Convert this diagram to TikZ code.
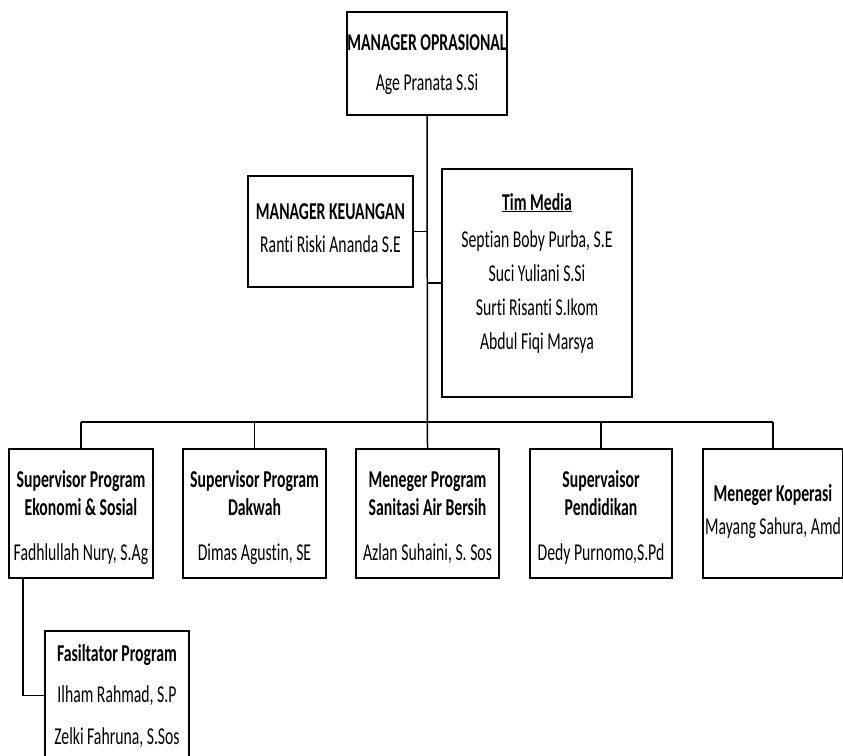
\documentclass[tikz,border=0pt]{standalone}
\usepackage{fontspec}
\setmainfont{Carlito}[FakeStretch=0.65, Ligatures=NoCommon]
\begin{document}
\begin{tikzpicture}[x=1pt,y=-1pt,
  box/.style={draw, line width=1.6pt, fill=white, inner sep=0pt},
  txt/.style={inner sep=0pt, anchor=base, font=\fontsize{24.2}{27}\selectfont},
  bt/.style={txt, font=\fontsize{24.2}{27}\selectfont\bfseries},
  conn/.style={line width=1.5pt}]
\useasboundingbox[fill=white] (0,0) rectangle (843,755);
% boxes
\node[box, minimum width=160pt, minimum height=103pt] (top) at (427,63.5) {};
\node[box, minimum width=165pt, minimum height=111pt] (keu) at (330.5,231.5) {};
\node[box, minimum width=190pt, minimum height=228pt] (tim) at (537,283) {};
\node[box, minimum width=144pt, minimum height=129pt] (b1) at (81,513.5) {};
\node[box, minimum width=143pt, minimum height=129pt] (b2) at (254.5,513.5) {};
\node[box, minimum width=143pt, minimum height=129pt] (b3) at (427.5,513.5) {};
\node[box, minimum width=142pt, minimum height=129pt] (b4) at (601,513.5) {};
\node[box, minimum width=140pt, minimum height=129pt] (b5) at (773,513.5) {};
\node[box, minimum width=144pt, minimum height=129pt] (fas) at (117,695.5) {};
% connectors
\coordinate (bus) at (427,422);
\coordinate (busL) at (81,422);
\coordinate (busR) at (773,422);
\draw[conn] (top.south) -- (b3.north);
\draw[conn] (keu.east) -- (keu.east -| top.south);
\draw[conn] (tim.west -| top.south) -- (tim.west);
\draw[conn] (busL) -- (busR);
\draw[conn] (busL) -- (b1.north);
\draw[conn] (b2.north |- bus) -- (b2.north);
\draw[conn] (b4.north |- bus) -- (b4.north);
\draw[conn] (busR) -- (b5.north);
\draw[conn] ([xshift=15pt]b1.south west) |- (fas.west);
% texts
\node[bt] (t1a) at (427,50.5) {MANAGER OPRASIONAL};
\node[txt] (t1b) at (427,90.5) {Age Pranata S.Si};
\node[bt] (t2a) at (330.5,219.5) {MANAGER KEUANGAN};
\node[txt] (t2b) at (330.5,252.5) {Ranti Riski Ananda S.E};
\node[bt] (t3a) at (537,210) {\underline{Tim Media}};
\node[txt] (t3b) at (537,247) {Septian Boby Purba, S.E};
\node[txt] (t3c) at (537,281) {Suci Yuliani S.Si};
\node[txt] (t3d) at (537,315) {Surti Risanti S.Ikom};
\node[txt] (t3e) at (537,349) {Abdul Fiqi Marsya};
\node[bt] (t4a) at (81,487.5) {Supervisor Program};
\node[bt] (t4b) at (81,515.5) {Ekonomi \& Sosial};
\node[txt] (t4c) at (81,560.5) {Fadhlullah Nury, S.Ag};
\node[bt] (t5a) at (254.5,487.5) {Supervisor Program};
\node[bt] (t5b) at (254.5,515.5) {Dakwah};
\node[txt] (t5c) at (254.5,560.5) {Dimas Agustin, SE};
\node[bt] (t6a) at (427.5,487.5) {Meneger Program};
\node[bt] (t6b) at (427.5,515.5) {Sanitasi Air Bersih};
\node[txt] (t6c) at (427.5,560.5) {Azlan Suhaini, S. Sos};
\node[bt] (t7a) at (601,487.5) {Supervaisor};
\node[bt] (t7b) at (601,515.5) {Pendidikan};
\node[txt] (t7c) at (601,560.5) {Dedy Purnomo,S.Pd};
\node[bt] (t8a) at (773,501) {Meneger Koperasi};
\node[txt] (t8b) at (773,534) {Mayang Sahura, Amd};
\node[bt] (t9a) at (117,661) {Fasiltator Program};
\node[txt] (t9b) at (117,702) {Ilham Rahmad, S.P};
\node[txt] (t9c) at (117,744) {Zelki Fahruna, S.Sos};
\end{tikzpicture}
\end{document}
